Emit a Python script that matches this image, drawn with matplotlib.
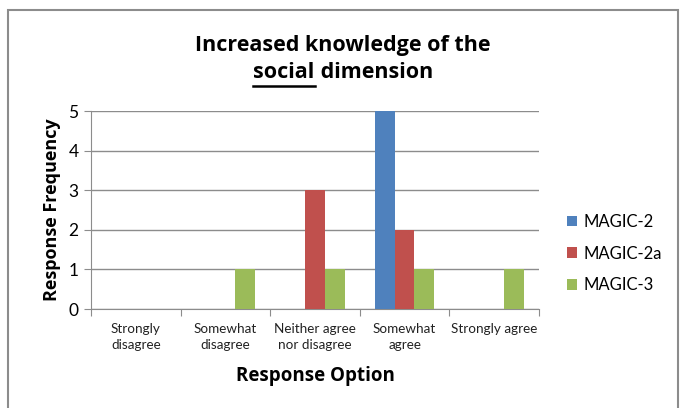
import matplotlib.pyplot as plt
import numpy as np
from matplotlib.patches import Rectangle
from matplotlib.lines import Line2D

plt.rcParams['font.family'] = ['Lato', 'DejaVu Sans']
BOLD = ['Open Sans', 'DejaVu Sans']

categories = ['Strongly\ndisagree', 'Somewhat\ndisagree', 'Neither agree\nnor disagree',
              'Somewhat\nagree', 'Strongly agree']
series = ['MAGIC-2', 'MAGIC-2a', 'MAGIC-3']
magic2 = [0, 0, 0, 5, 0]
magic2a = [0, 0, 3, 2, 0]
magic3 = [0, 1, 1, 1, 1]
colors = ['#4F81BD', '#C0504D', '#9BBB59']

fig = plt.figure(figsize=(6.84, 4.08), dpi=100)
fig.patches.append(Rectangle((8 / 684, -0.05), 670 / 684, 1 - 10 / 408 + 0.05,
                             transform=fig.transFigure, fill=False,
                             edgecolor='#8C8C8C', linewidth=1.5))

ax = fig.add_axes([91 / 684, 99 / 408, 448 / 684, 198 / 408])
x = np.arange(len(categories))
w = 0.22
for i, (vals, name) in enumerate(zip([magic2, magic2a, magic3], series)):
    ax.bar(x + (i - 1) * w, vals, w, color=colors[i], label=name, zorder=3)

ax.set_xlim(-0.5, len(categories) - 0.5)
ax.set_ylim(0, 5)
ax.set_yticks(range(6))
ax.yaxis.grid(True, color='#8C8C8C', linewidth=1, zorder=0)
ax.set_xticks(np.arange(-0.5, len(categories), 1))
ax.set_xticklabels([])
ax.set_xticks(x, minor=True)
ax.set_xticklabels(categories, minor=True, fontsize=9.7, color='#222222', linespacing=1.4)
ax.tick_params(axis='x', which='minor', length=0, pad=10)
ax.tick_params(axis='x', which='major', length=5, color='#8C8C8C')
ax.tick_params(axis='y', length=5, color='#8C8C8C', labelsize=12.5, pad=4)
for s in ['top', 'right']:
    ax.spines[s].set_visible(False)
for s in ['left', 'bottom']:
    ax.spines[s].set_color('#8C8C8C')

ax.set_ylabel('Response Frequency', fontsize=13, fontweight='bold', family=BOLD, labelpad=5)
ax.set_xlabel('Response Option', fontsize=13.5, fontweight='bold', family=BOLD, labelpad=11)

ax.legend(loc='center left', bbox_to_anchor=(1.03, 0.28), frameon=False,
          fontsize=12, handlelength=0.6, handleheight=0.6, labelspacing=0.95,
          handletextpad=0.35)

# title with underlined word
fig.text(343 / 684, 1 - 45 / 408, 'Increased knowledge of the', ha='center', va='center',
         fontsize=15.5, fontweight='bold', family=BOLD)
r = fig.canvas.get_renderer()
t1 = fig.text(0, 1 - 73 / 408, 'social', va='center', fontsize=15.5, fontweight='bold', family=BOLD)
t2 = fig.text(0, 1 - 73 / 408, ' dimension', va='center', fontsize=15.5, fontweight='bold', family=BOLD)
w1 = t1.get_window_extent(r).width / 684
w2 = t2.get_window_extent(r).width / 684
x0 = 343 / 684 - (w1 + w2) / 2
t1.set_x(x0)
t2.set_x(x0 + w1)
yl = 1 - 86 / 408
fig.lines.append(Line2D([x0, x0 + w1], [yl, yl], transform=fig.transFigure,
                        color='black', linewidth=1.8))

fig.savefig('out.png', dpi=100)
